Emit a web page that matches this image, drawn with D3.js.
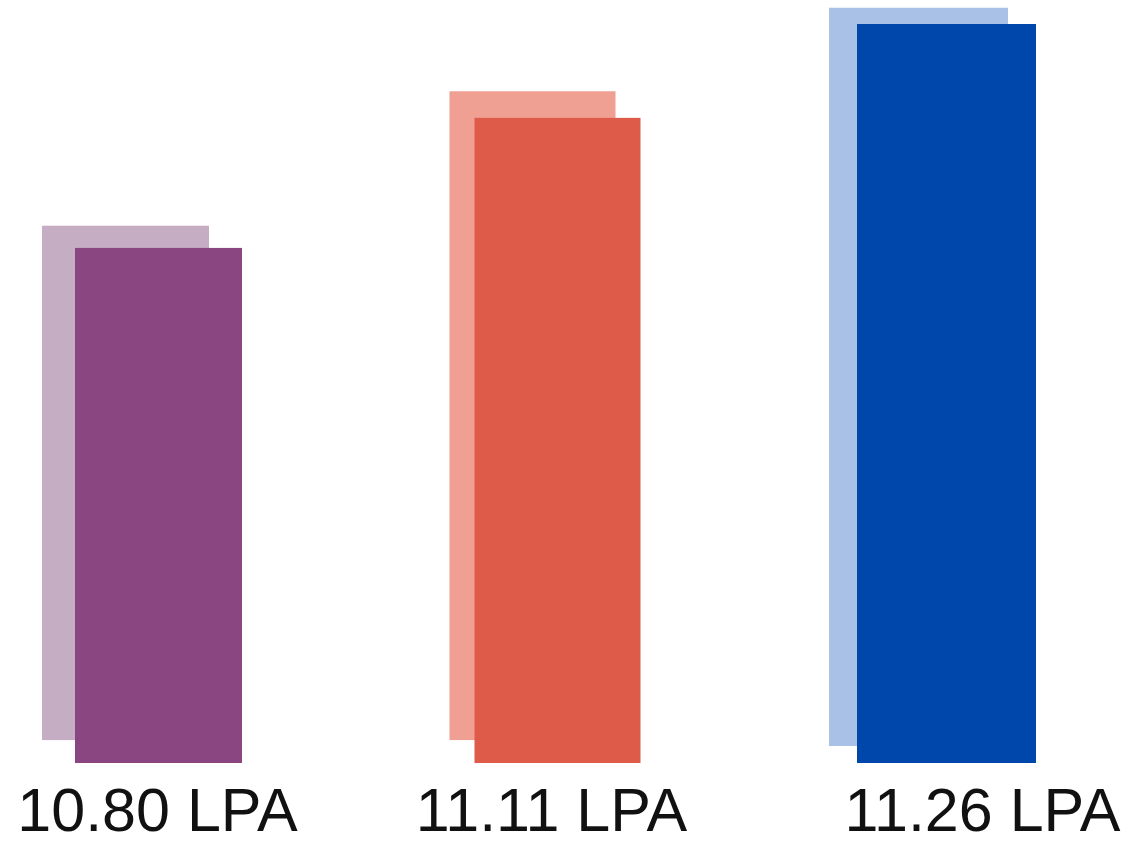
<!DOCTYPE html>
<html><head><meta charset="utf-8">
<script src="https://cdn.jsdelivr.net/npm/d3@7/dist/d3.min.js"></script>
<style>html,body{margin:0;padding:0;background:#fff;overflow:hidden}</style>
</head><body>
<svg id="chart" width="1141" height="844"></svg>
<script>
// Data (bar heights in relative units, 100 = tallest front bar)
const categories = ["10.80 LPA", "11.11 LPA", "11.26 LPA"];
const frontValues = [69.7, 87.3, 100];
const shadowTops = [72.7, 90.9, 102.2];
const shadowBases = [3.1, 3.1, 2.3];
const frontColors = ["#8a4680", "#df5b49", "#0047ab"];
const shadowColors = ["#c5adc4", "#f0a092", "#a9c1e6"];

// layout tweaks per group
const centerOffsets = [0, 5, 0];
const barWidths = [167, 166, 179];
const shadowDx = [-33, -25, -28];
const labelOffsets = [-1, -1, 36];

const svg = d3.select("#chart");
const y = d3.scaleLinear().domain([0, 100]).range([763, 24]);
const x = d3.scalePoint().domain(d3.range(categories.length)).range([158.5, 946.5]);

const g = svg.append("g");
categories.forEach((c, i) => {
  const cx = x(i) + centerOffsets[i];
  const w = barWidths[i];
  g.append("rect")
    .attr("x", cx - w / 2 + shadowDx[i])
    .attr("y", y(shadowTops[i]))
    .attr("width", w)
    .attr("height", y(shadowBases[i]) - y(shadowTops[i]))
    .attr("fill", shadowColors[i]);
  g.append("rect")
    .attr("x", cx - w / 2)
    .attr("y", y(frontValues[i]))
    .attr("width", w)
    .attr("height", y(0) - y(frontValues[i]))
    .attr("fill", frontColors[i]);
});

g.selectAll("text.lbl").data(categories).join("text")
  .attr("class", "lbl")
  .attr("x", (d, i) => x(i) + labelOffsets[i])
  .attr("y", 831)
  .attr("text-anchor", "middle")
  .attr("font-family", "'Liberation Sans', Arial, sans-serif")
  .attr("font-size", 61)
  .attr("fill", "#111")
  .text(d => d);
</script>
</body></html>
